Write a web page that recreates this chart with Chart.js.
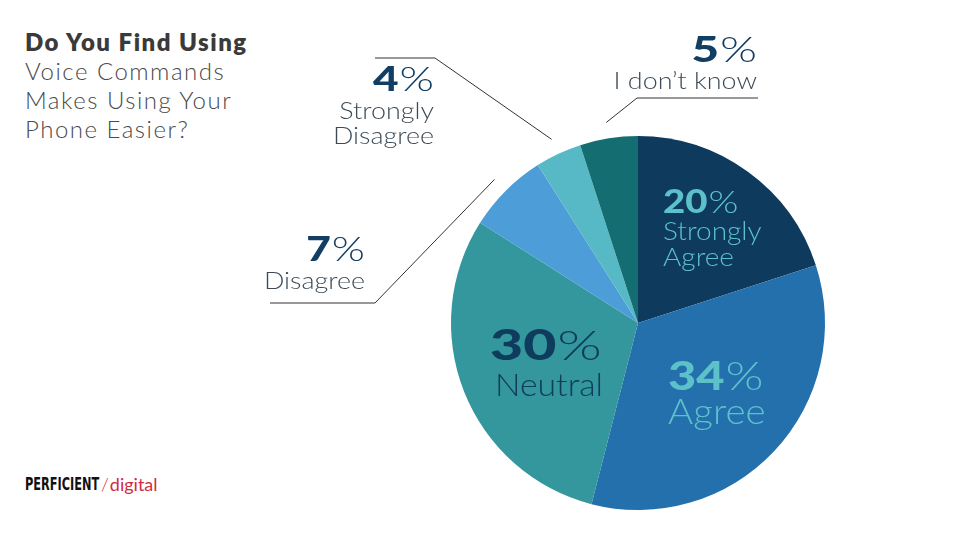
<!DOCTYPE html>
<html>
<head>
<meta charset="utf-8">
<script src="https://cdn.jsdelivr.net/npm/chart.js@4.4.1/dist/chart.umd.min.js"></script>
<style>
  html, body { margin: 0; padding: 0; background: #fff; }
  #wrap { position: relative; width: 960px; height: 540px; overflow: hidden; }
  #title { position: absolute; left: 25px; top: 27px; font-family: Lato, sans-serif; font-size: 24px; line-height: 29px; color: #4a4a4a; font-weight: 300; letter-spacing: 1.5px; }
  #title b { font-weight: 800; color: #3a3a3a; letter-spacing: 1.5px; }
  .logo { position: absolute; top: 474px; font-size: 17px; white-space: nowrap; }
  #logoP { left: 25px; color: #111; font-weight: bold; font-family: "DejaVu Sans Condensed", sans-serif; transform: scaleX(0.74); transform-origin: left center; }
  #logoD { left: 101px; color: #d42a44; font-family: Lato, sans-serif; font-size: 18px; top: 473px; }
  #logoD .s { font-weight: 300; margin-right: 1px; }
  canvas { position: absolute; left: 0; top: 0; }
</style>
</head>
<body>
<div id="wrap">
  <div id="title"><b>Do You Find Using</b><br>Voice Commands<br>Makes Using Your<br>Phone Easier?</div>
  <div class="logo" id="logoP">PERFICIENT</div>
  <div class="logo" id="logoD"><span class="s">/</span>digital</div>
  <canvas id="pie" width="960" height="540"></canvas>
</div>
<script>
const categories = ['Strongly Agree', 'Agree', 'Neutral', 'Disagree', 'Strongly Disagree', "I don't know"];
const labelLines = [['Strongly', 'Agree'], ['Agree'], ['Neutral'], ['Disagree'], ['Strongly', 'Disagree'], ["I don\u2019t know"]];
const values = [20, 34, 30, 7, 4, 5];
const colors = ['#0e3a5e', '#2370ad', '#33979d', '#4d9dd8', '#57b9c5', '#146d70'];

// where each label sits; outside ones get a leader line to their slice
const layout = [
  { inside: true, x: 663, y: 203, pctSize: 32, pctSx: 1.2, txtSize: 25, txtSx: 1.12, gap: 29, lh: 26, color: '#5cc1c9' },
  { inside: true, x: 668, y: 377, pctSize: 40, pctSx: 1.22, txtSize: 35, txtSx: 1.1, gap: 36, lh: 26, color: '#5cc1c9' },
  { inside: true, x: 490, y: 346, pctSize: 42, pctSx: 1.36, txtSize: 31, txtSx: 1.09, gap: 40, lh: 26, color: '#0f3b5c', center: 549 },
  { inside: false, x: 365, y: 250, pctSize: 34, pctSx: 1.25, txtSize: 24, txtSx: 1.12, elbow: [375, 303], tail: 270 },
  { inside: false, x: 434, y: 80, pctSize: 34, pctSx: 1.3, txtSize: 24, txtSx: 1.12, elbow: [435, 58], tail: 375 },
  { inside: false, x: 757, y: 50, pctSize: 36, pctSx: 1.32, txtSize: 24, txtSx: 1.12, elbow: [637, 98], tail: 758 }
];

// text drawn with a horizontal stretch, to get close to the wide geometric face of the original
function wideText(ctx, str, x, y, align, font, sx) {
  ctx.font = font;
  const w = ctx.measureText(str).width * sx;
  let left = x;
  if (align === 'right') left = x - w;
  if (align === 'center') left = x - w / 2;
  ctx.save();
  ctx.translate(left, y);
  ctx.scale(sx, 1);
  ctx.textAlign = 'left';
  ctx.textBaseline = 'middle';
  ctx.fillText(str, 0, 0);
  ctx.restore();
  return w;
}

function drawPct(ctx, val, x, y, align, size, sx, color) {
  const num = String(val);
  const fNum = '900 ' + size + 'px Lato, sans-serif';
  const fPct = '300 ' + size + 'px Lato, sans-serif';
  ctx.fillStyle = color;
  ctx.font = fNum;
  const wNum = ctx.measureText(num).width * sx;
  ctx.font = fPct;
  const wPct = ctx.measureText('%').width * sx;
  const left = align === 'right' ? x - wNum - wPct - 1 : x;
  wideText(ctx, num, left, y, 'left', fNum, sx);
  wideText(ctx, '%', left + wNum + 1, y, 'left', fPct, sx);
}

const labelPlugin = {
  id: 'labels',
  afterDraw(chart) {
    const ctx = chart.ctx;
    const arcs = chart.getDatasetMeta(0).data;
    ctx.save();
    arcs.forEach((arc, i) => {
      const L = layout[i];
      const txtFont = '300 ' + L.txtSize + 'px Lato, sans-serif';
      if (L.inside) {
        drawPct(ctx, values[i], L.x, L.y, 'left', L.pctSize, L.pctSx, L.color);
        ctx.fillStyle = L.color;
        labelLines[i].forEach((t, k) => {
          const ty = L.y + L.gap + k * L.lh;
          if (L.center) wideText(ctx, t, L.center, ty, 'center', txtFont, L.txtSx);
          else wideText(ctx, t, L.x, ty, 'left', txtFont, L.txtSx);
        });
      } else {
        drawPct(ctx, values[i], L.x, L.y, 'right', L.pctSize, L.pctSx, '#123e63');
        ctx.fillStyle = '#3c4b57';
        labelLines[i].forEach((t, k) => wideText(ctx, t, L.x, L.y + 31 + k * 25, 'right', txtFont, L.txtSx));
        // leader from just outside the slice to the elbow, then horizontal
        const mid = (arc.startAngle + arc.endAngle) / 2;
        const r = arc.outerRadius + 16;
        ctx.strokeStyle = '#333';
        ctx.lineWidth = 1;
        ctx.beginPath();
        ctx.moveTo(arc.x + Math.cos(mid) * r, arc.y + Math.sin(mid) * r);
        ctx.lineTo(L.elbow[0], L.elbow[1]);
        ctx.lineTo(L.tail, L.elbow[1]);
        ctx.stroke();
      }
    });
    ctx.restore();
  }
};

new Chart(document.getElementById('pie'), {
  type: 'pie',
  data: {
    labels: categories,
    datasets: [{ data: values, backgroundColor: colors, borderWidth: 0 }]
  },
  options: {
    responsive: false,
    animation: false,
    layout: { padding: { left: 451, right: 135, top: 136, bottom: 30 } },
    plugins: { legend: { display: false }, tooltip: { enabled: false } }
  },
  plugins: [labelPlugin]
});
</script>
</body>
</html>
